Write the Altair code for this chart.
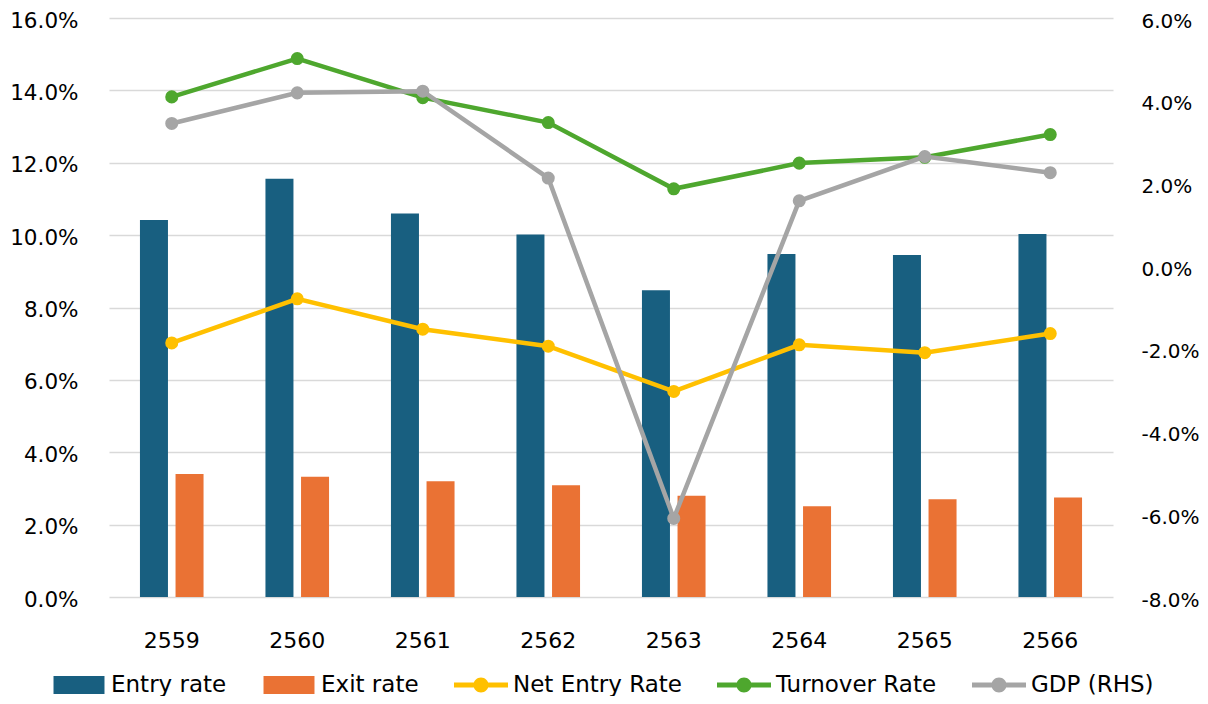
import altair as alt
import pandas as pd

years = ["2559", "2560", "2561", "2562", "2563", "2564", "2565", "2566"]
entry_rate = [10.42, 11.56, 10.60, 10.02, 8.48, 9.48, 9.45, 10.03]
exit_rate = [3.40, 3.32, 3.20, 3.09, 2.80, 2.51, 2.70, 2.75]
net_entry_rate = [7.02, 8.24, 7.40, 6.93, 5.68, 6.97, 6.75, 7.28]
turnover_rate = [13.82, 14.88, 13.80, 13.11, 11.28, 11.99, 12.15, 12.78]
gdp_growth = [3.45, 4.19, 4.23, 2.13, -6.10, 1.58, 2.65, 2.26]

series_names = ["Entry rate", "Exit rate", "Net Entry Rate", "Turnover Rate", "GDP (RHS)"]
series_colors = ["#185f80", "#ea7234", "#ffc000", "#4ea72e", "#a5a5a5"]
left_ticks = [0, 2, 4, 6, 8, 10, 12, 14, 16]
right_ticks = [-8, -6, -4, -2, 0, 2, 4, 6]

FONT = "DejaVu Sans"
TICK_SIZE = 21.5
LEGEND_SIZE = 23
LABEL_EXPR = "(datum.value < 0 ? '-' : '') + format(abs(datum.value), '.1f') + '%'"

rect_path = "M-0.944,-0.333H0.944V0.333H-0.944Z"
line_path = ("M-1,-0.093H1V0.093H-1Z "
             "M0.278,0A0.278,0.278 0 1,1 -0.278,0A0.278,0.278 0 1,1 0.278,0Z")
legend_shapes = [rect_path, rect_path, line_path, line_path, line_path]

bars_df = pd.DataFrame({
    "year": years * 2,
    "series": [series_names[0]] * len(years) + [series_names[1]] * len(years),
    "value": entry_rate + exit_rate,
})
net_df = pd.DataFrame({"year": years, "value": net_entry_rate})
turn_df = pd.DataFrame({"year": years, "value": turnover_rate})
gdp_df = pd.DataFrame({"year": years, "value": gdp_growth})
legend_df = pd.DataFrame({"series": series_names})

x_enc = alt.X(
    "year:N", sort=years,
    scale=alt.Scale(paddingInner=0, paddingOuter=0),
    axis=alt.Axis(title=None, labelAngle=0, labelPadding=33, ticks=False, domain=False,
                  labelFontSize=22, labelFont=FONT, labelColor="#000000"),
)

left_scale = alt.Scale(domain=[0, 16], nice=False, zero=True)
left_axis = alt.Axis(title=None, values=left_ticks, labelExpr=LABEL_EXPR, grid=True,
                     gridColor="#d9d9d9", gridWidth=1.6, ticks=False, domain=False,
                     labelPadding=31, labelOffset=3, labelFontSize=TICK_SIZE, labelFont=FONT,
                     labelColor="#000000")

bars = alt.Chart(bars_df).mark_bar().encode(
    x=x_enc,
    xOffset=alt.XOffset("series:N", sort=series_names[:2],
                        scale=alt.Scale(domain=series_names[:2], paddingInner=0.213, paddingOuter=0.87)),
    y=alt.Y("value:Q", scale=left_scale, axis=left_axis),
    fill=alt.Fill("series:N", scale=alt.Scale(domain=series_names[:2], range=series_colors[:2]), legend=None),
)

def line_layer(df, color):
    return alt.Chart(df).mark_line(
        color=color, strokeWidth=4.5,
        point=alt.OverlayMarkDef(filled=True, size=170, color=color, opacity=1),
    )

net = line_layer(net_df, series_colors[2]).encode(
    x=x_enc, y=alt.Y("value:Q", scale=left_scale, axis=left_axis))
turn = line_layer(turn_df, series_colors[3]).encode(
    x=x_enc, y=alt.Y("value:Q", scale=left_scale, axis=left_axis))

leg = alt.Legend(title=None, orient="none", legendX=-57, legendY=640, direction="horizontal",
                 columns=5, symbolSize=2916, symbolStrokeWidth=0, symbolOpacity=1,
                 labelFontSize=LEGEND_SIZE, labelFont=FONT, labelColor="#000000", labelOffset=5,
                 columnPadding=35, labelLimit=400, padding=0, rowPadding=0)

legend_layer = alt.Chart(legend_df).mark_point(filled=True, size=2916).encode(
    color=alt.Color("series:N", sort=series_names,
                    scale=alt.Scale(domain=series_names, range=series_colors), legend=leg),
    shape=alt.Shape("series:N", sort=series_names,
                    scale=alt.Scale(domain=series_names, range=legend_shapes), legend=leg),
    opacity=alt.value(0),
)

left = alt.layer(bars, net, turn, legend_layer)

gdp = line_layer(gdp_df, series_colors[4]).encode(
    x=x_enc,
    y=alt.Y("value:Q", scale=alt.Scale(domain=[-8, 6], nice=False, zero=False),
            axis=alt.Axis(orient="right", title=None, values=right_ticks, labelExpr=LABEL_EXPR,
                          grid=False, ticks=False, domain=False, labelPadding=28, labelOffset=3,
                          labelFontSize=20, labelFont=FONT, labelColor="#000000")),
)

chart = alt.layer(left, gdp).resolve_scale(y="independent").properties(
    width=1004, height=579,
    padding={"left": 101, "top": 10, "right": 87, "bottom": 99},
    autosize=alt.AutoSizeParams(type="none"),
).configure_view(stroke=None)

chart.save("out.html", embed_options={"renderer": "svg", "actions": False})
